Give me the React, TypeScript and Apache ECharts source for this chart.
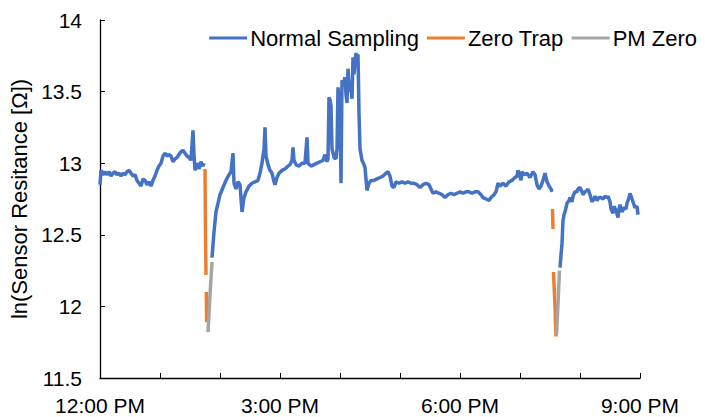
import React, { useEffect, useRef } from "react";
import * as echarts from "echarts";

// minutes after 12:00 PM ; null value = break in line
const normalTimes = [
  0, 1, 3, 5, 7, 9, 11, 13, 15, 17, 19, 21, 23, 25, 27, 29, 31, 33, 35, 37, 39, 41, 43, 45, 47, 49, 51, 53, 55, 57, 59, 61, 63, 65, 67, 69, 71, 73, 75, 77, 79, 81, 83, 85, 87, 89, 91, 93, 94, 95, 97, 99, 101, 103, 104,
  108,
  112, 114, 116, 118, 120, 123, 126, 129, 131, 133, 134, 136, 138, 140, 142, 144, 146, 149, 152, 155, 158, 160, 162, 164, 165, 166, 168, 170, 172, 174, 175, 177, 179, 182, 185, 188, 190, 192, 193, 194, 196, 199, 202, 205, 207, 208, 211, 214, 217, 220, 223, 225, 227, 228, 229, 230, 231, 232, 234, 236, 237, 238, 239, 240, 241, 242, 243, 245, 246, 247, 248, 249, 250, 251, 252, 253, 254, 255, 256, 257, 258, 259, 260, 262, 264, 265, 267, 269, 271, 274, 277, 280, 283, 286, 288, 290, 292, 294, 296, 299, 302, 305, 308, 311, 314, 317, 320, 323, 326, 329, 331, 333, 336, 339, 342, 345, 348, 351, 354, 357, 360, 363, 366, 369, 372, 375, 378, 381, 383, 386, 389, 391, 394, 396, 398, 400, 403, 406, 409, 412, 415, 417, 418, 419, 421, 422, 424, 427, 430, 433, 435, 437, 439, 441, 443, 445, 447, 449, 451, 452,
  456,
  460, 461, 462, 463, 464, 465, 467, 469, 470, 472, 473, 475, 477, 478, 480, 482, 483, 485, 487, 488, 490, 492, 494, 495, 497, 499, 501, 503, 505, 507, 508, 510, 511, 513, 514, 516, 518, 519, 520, 522, 524, 526, 527, 529, 530, 532, 534, 535, 537, 538,
];
const normalValues = [
  12.85, 12.95, 12.92, 12.94, 12.92, 12.94, 12.91, 12.93, 12.94, 12.92, 12.93, 12.91, 12.93, 12.92, 12.94, 12.95, 12.93, 12.91, 12.92, 12.88, 12.86, 12.84, 12.89, 12.88, 12.85, 12.87, 12.84, 12.88, 12.91, 12.95, 12.98, 13.0, 13.05, 13.07, 13.05, 13.06, 13.05, 13.01, 13.03, 13.04, 13.06, 13.08, 13.09, 13.07, 13.05, 13.04, 13.02, 13.23, 13.06, 12.95, 13.0, 12.96, 13.01, 12.98, 13.0,
  null,
  12.34, 12.52, 12.66, 12.72, 12.78, 12.83, 12.88, 12.92, 12.94, 13.07, 12.86, 12.82, 12.87, 12.85, 12.66, 12.76, 12.8, 12.84, 12.86, 12.87, 12.88, 12.93, 13.0, 13.1, 13.25, 13.05, 12.99, 12.95, 12.93, 12.87, 12.85, 12.9, 12.93, 12.95, 12.96, 12.98, 12.99, 13.02, 13.11, 13.02, 12.99, 12.98, 13.0, 13.0, 13.18, 13.0, 12.98, 12.99, 13.0, 13.01, 13.02, 13.06, 13.01, 13.03, 13.46, 13.44, 13.4, 13.1, 13.04, 13.03, 13.1, 13.53, 13.45, 13.4, 12.86, 13.58, 13.55, 13.6, 13.48, 13.42, 13.66, 13.55, 13.5, 13.52, 13.45, 13.74, 13.62, 13.7, 13.77, 13.72, 13.76, 13.35, 13.1, 13.02, 12.99, 12.97, 12.81, 12.86, 12.88, 12.88, 12.89, 12.9, 12.91, 12.93, 12.94, 12.91, 12.84, 12.83, 12.87, 12.86, 12.87, 12.86, 12.87, 12.86, 12.86, 12.85, 12.83, 12.85, 12.86, 12.85, 12.82, 12.79, 12.8, 12.79, 12.78, 12.76, 12.78, 12.79, 12.78, 12.79, 12.8, 12.79, 12.8, 12.8, 12.79, 12.8, 12.8, 12.78, 12.76, 12.75, 12.74, 12.76, 12.78, 12.8, 12.86, 12.84, 12.86, 12.84, 12.87, 12.88, 12.9, 12.91, 12.95, 12.93, 12.88, 12.94, 12.92, 12.93, 12.9, 12.94, 12.92, 12.85, 12.82, 12.84, 12.88, 12.93, 12.87, 12.84, 12.82, 12.8,
  null,
  12.27, 12.36, 12.44, 12.6, 12.64, 12.66, 12.72, 12.74, 12.76, 12.73, 12.77, 12.8, 12.8, 12.82, 12.83, 12.8, 12.78, 12.8, 12.81, 12.82, 12.78, 12.73, 12.75, 12.77, 12.74, 12.76, 12.76, 12.75, 12.77, 12.76, 12.77, 12.73, 12.68, 12.65, 12.7, 12.67, 12.62, 12.68, 12.71, 12.66, 12.69, 12.68, 12.72, 12.76, 12.79, 12.75, 12.71, 12.69, 12.7, 12.64,
];

const zeroTrapTimes = [105, 105.5, 106, 106.2, 106.3, 106.7, 300, 452.5, 453, 453.2, 453.5, 455, 456];
const zeroTrapValues = [12.96, 12.5, 12.22, null, 12.1, 11.89, null, 12.68, 12.54, null, 12.24, 12.0, 11.79];

const pmZeroTimes = [108, 110, 112, 300, 456.5, 458, 459.5];
const pmZeroValues = [11.82, 12.08, 12.31, null, 11.8, 12.02, 12.25];

const xTickLabels: Record<number, string> = { 0: "12:00 PM", 180: "3:00 PM", 360: "6:00 PM", 540: "9:00 PM" };

const toData = (t: number[], v: (number | null)[]) => t.map((x, i) => [x, v[i] === null ? "-" : v[i]]);

const FONT = "'Liberation Sans', Arial, sans-serif";

export default function App() {
  const ref = useRef<HTMLDivElement>(null);
  useEffect(() => {
    if (!ref.current) return;
    const chart = echarts.init(ref.current, undefined, { renderer: "svg" });
    const axisLine = { show: true, lineStyle: { color: "#000", width: 1.3 } };
    const mk = (name: string, t: number[], v: (number | null)[], color: string) => ({
      name,
      type: "line",
      symbol: "none",
      connectNulls: false,
      data: toData(t, v),
      lineStyle: { color, width: 3.5 },
      itemStyle: { color },
    });
    chart.setOption({
      animation: false,
      textStyle: { fontFamily: FONT },
      grid: { left: 100, right: 65, top: 20, bottom: 39 },
      legend: {
        right: 3,
        top: 22,
        icon: "rect",
        itemWidth: 38,
        itemHeight: 3,
        itemGap: 8,
        textStyle: { fontSize: 22, color: "#000", fontFamily: FONT, padding: [0, 0, 0, -2] },
        data: ["Normal Sampling", "Zero Trap", "PM Zero"],
      },
      xAxis: {
        type: "value",
        min: 0,
        max: 540,
        interval: 60,
        axisLine,
        axisTick: { show: true, inside: true, length: 5, lineStyle: { color: "#000" } },
        splitLine: { show: false },
        axisLabel: {
          fontSize: 21,
          color: "#000",
          margin: 17,
          fontFamily: FONT,
          formatter: (v: number) => xTickLabels[v] ?? "",
        },
      },
      yAxis: {
        type: "value",
        min: 11.5,
        max: 14,
        interval: 0.5,
        name: "ln(Sensor Resitance [Ω])",
        nameLocation: "middle",
        nameGap: 70,
        nameTextStyle: { fontSize: 22, color: "#000", fontFamily: FONT },
        axisLine,
        axisTick: { show: true, inside: true, length: 5, lineStyle: { color: "#000" } },
        splitLine: { show: false },
        axisLabel: { fontSize: 21, color: "#000", margin: 18, fontFamily: FONT },
      },
      series: [
        mk("Normal Sampling", normalTimes, normalValues, "#4472C4"),
        mk("Zero Trap", zeroTrapTimes, zeroTrapValues, "#ED7D31"),
        mk("PM Zero", pmZeroTimes, pmZeroValues, "#A5A5A5"),
      ],
    });
    return () => chart.dispose();
  }, []);
  return <div ref={ref} style={{ width: 705, height: 417, position: "absolute", left: 0, top: 0 }} />;
}
